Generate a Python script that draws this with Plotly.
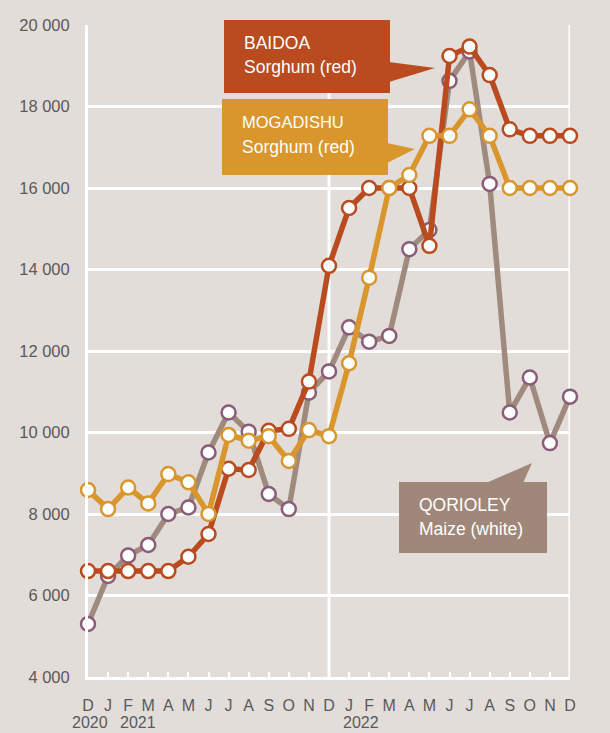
import plotly.graph_objects as go

months = ["D", "J", "F", "M", "A", "M", "J", "J", "A", "S", "O", "N",
          "D", "J", "F", "M", "A", "M", "J", "J", "A", "S", "O", "N", "D"]
x_idx = list(range(len(months)))
year_labels = ["2020", "2021", "2022"]
year_pos = [0.1, 2.5, 13.6]

baidoa = [6600, 6600, 6600, 6600, 6600, 6950, 7510, 9110, 9080, 10040, 10090, 11250,
          14090, 15510, 16000, 16000, 16000, 14580, 19240, 19470, 18770, 17440, 17280, 17280, 17280]
mogadishu = [8590, 8120, 8650, 8260, 8980, 8780, 8000, 9940, 9800, 9910, 9300, 10060,
             9910, 11700, 13800, 16000, 16320, 17280, 17280, 17930, 17280, 16000, 16000, 16000, 16000]
qorioley = [5300, 6480, 6980, 7240, 8000, 8160, 9510, 10490, 10020, 8490, 8120, 10980,
            11500, 12580, 12230, 12370, 14500, 14970, 18630, 19350, 16100, 10490, 11350, 9740, 10880]

BG = "#E3DDDA"
C_BAI = "#B94B1F"
C_MOG = "#D9962C"
C_QOR_LINE = "#9F8A7D"
C_QOR_MK = "#8A5C78"
FONT = "Liberation Sans, Arial, sans-serif"
TXT = "#595959"

fig = go.Figure()


def add(vals, line_col, mk_col):
    fig.add_trace(go.Scatter(
        x=x_idx, y=vals, mode="lines+markers", cliponaxis=False,
        line=dict(color=line_col, width=5.5),
        marker=dict(size=14, color="white", line=dict(color=mk_col, width=2.5)),
        showlegend=False, hoverinfo="skip"))


add(qorioley, C_QOR_LINE, C_QOR_MK)
add(baidoa, C_BAI, C_BAI)
add(mogadishu, C_MOG, C_MOG)

L, R, T, B = 88, 40, 25, 56
W, H = 610, 733
PW, PH = W - L - R, H - T - B


def PX(x):
    return (x - L) / PW


def PY(y):
    return (H - B - y) / PH


shapes = []
for xv in [12, 24]:
    shapes.append(dict(type="line", xref="x", yref="paper", x0=xv, x1=xv, y0=0, y1=1,
                       line=dict(color="white", width=3), layer="below"))


def callout(x0, y0, x1, y1, tri, color):
    shapes.append(dict(type="rect", xref="paper", yref="paper",
                       x0=PX(x0), x1=PX(x1), y0=PY(y1), y1=PY(y0),
                       fillcolor=color, line=dict(width=0), layer="above"))
    path = "M " + " L ".join(f"{PX(a):.5f},{PY(b):.5f}" for a, b in tri) + " Z"
    shapes.append(dict(type="path", xref="paper", yref="paper", path=path,
                       fillcolor=color, line=dict(width=0), layer="above"))


callout(224, 20, 390, 93, [(389, 62), (435, 68), (389, 82)], C_BAI)
callout(222, 99, 388, 175, [(387, 143), (415, 149), (387, 163)], C_MOG)
callout(399, 482, 547, 553, [(486, 483), (532, 463), (523, 483)], "#9F877A")

annotations = []


def txt(x, y, s, size=17.5):
    annotations.append(dict(xref="paper", yref="paper", x=PX(x), y=PY(y), text=s,
                            showarrow=False, xanchor="left", yanchor="middle", align="left",
                            font=dict(family=FONT, size=size, color="white")))


txt(242, 43, "BAIDOA")
txt(242, 67, "Sorghum (red)")
txt(240, 122, "MOGADISHU", 16.5)
txt(240, 147, "Sorghum (red)")
txt(417, 505, "QORIOLEY")
txt(417, 529, "Maize (white)")

for lab, pos in zip(year_labels, year_pos):
    annotations.append(dict(xref="x", yref="paper", x=pos, y=PY(722), text=lab,
                            showarrow=False, xanchor="center", yanchor="middle",
                            font=dict(family=FONT, size=16, color=TXT)))

fig.update_layout(
    width=W, height=H, margin=dict(l=L, r=R, t=T, b=B),
    paper_bgcolor=BG, plot_bgcolor=BG,
    separators=". ",
    font=dict(family=FONT, color=TXT),
    shapes=shapes, annotations=annotations,
    xaxis=dict(range=[0, 24], tickmode="array", tickvals=x_idx, ticktext=months,
               showgrid=False, zeroline=False, showline=True, linecolor="white", linewidth=3,
               ticks="inside", ticklen=5, tickwidth=2, tickcolor="white",
               tickfont=dict(family=FONT, size=16, color=TXT), ticklabelstandoff=12,
               fixedrange=True),
    yaxis=dict(range=[4000, 20000], tickmode="linear", tick0=4000, dtick=2000, tickformat=",d",
               showgrid=True, gridcolor="white", gridwidth=3, zeroline=False,
               showline=True, linecolor="white", linewidth=3, ticks="",
               tickfont=dict(family=FONT, size=16.5, color=TXT), ticklabelstandoff=12,
               fixedrange=True),
)

fig.write_html(
    "out.html",
    config={"displayModeBar": False},
    post_script="document.body.style.margin='0';document.body.style.background='%s';"
                "document.body.style.overflow='hidden';" % BG,
)
